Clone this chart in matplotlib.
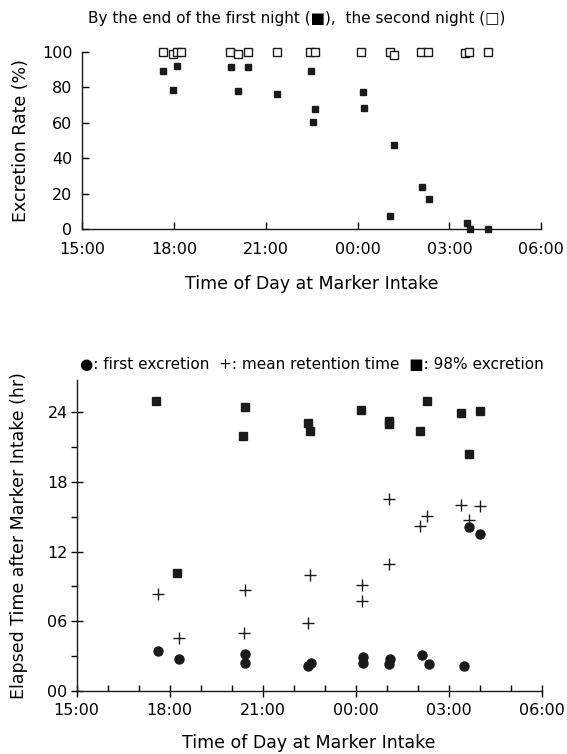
import matplotlib
matplotlib.use("Agg")
import matplotlib.pyplot as plt
from matplotlib.ticker import FixedLocator, MultipleLocator

plt.rcParams['font.family'] = ['DejaVu Sans']

# ---- data (time of day in hours, 24+ = after midnight) ----
# Top panel: excretion rate (%)
first_night_t = [17.64, 17.97, 18.09, 19.86, 20.09, 20.43, 21.36, 22.47, 22.59, 22.54,
                 24.18, 24.22, 25.07, 25.20, 26.09, 26.34, 27.57, 27.66, 28.27]
first_night_v = [89.2, 78.5, 92.3, 91.6, 78.1, 91.6, 76.4, 89.2, 67.7, 60.6,
                 77.2, 68.4, 7.1, 47.5, 24.0, 16.8, 3.2, 0.2, 0.2]
second_night_t = [17.64, 17.95, 18.09, 18.24, 19.82, 20.10, 20.43, 21.37, 22.44, 22.61,
                  24.12, 25.04, 25.19, 26.08, 26.29, 27.50, 27.64, 28.27]
second_night_v = [100, 98.7, 100, 100, 100, 98.7, 100, 100, 100, 100,
                  100, 100, 98.5, 100, 100, 99.5, 100, 100]

# Bottom panel: elapsed time after marker intake (hr)
first_exc_t = [17.63, 18.30, 20.44, 20.43, 22.46, 22.57, 24.23, 24.24, 25.12, 25.08,
               26.15, 26.35, 27.49, 27.65, 28.02]
first_exc_v = [3.39, 2.72, 3.16, 2.35, 2.12, 2.41, 2.93, 2.41, 2.70, 2.32,
               3.10, 2.32, 2.09, 14.08, 13.49]
mrt_t = [17.61, 18.30, 20.43, 20.40, 22.54, 22.46, 24.20, 24.20, 25.06, 25.09,
         26.08, 26.31, 27.41, 27.64, 28.02]
mrt_v = [8.31, 4.58, 8.72, 4.99, 9.98, 5.80, 9.13, 7.70, 16.5, 10.95,
         14.22, 15.07, 16.04, 14.75, 15.95]
exc98_t = [17.57, 18.25, 20.42, 20.38, 22.45, 22.51, 24.18, 25.06, 25.08, 26.08,
           26.30, 27.41, 27.64, 28.00]
exc98_v = [25.0, 10.13, 24.46, 21.97, 23.09, 22.4, 24.17, 22.97, 23.29, 22.4,
           25.0, 23.97, 20.43, 24.14]

x_ticks = [15, 18, 21, 24, 27, 30]
x_labels = ["15:00", "18:00", "21:00", "00:00", "03:00", "06:00"]
top_yticks = [0, 20, 40, 60, 80, 100]
bot_yticks = [0, 6, 12, 18, 24]
bot_ylabels = ["00", "06", "12", "18", "24"]

W, H = 567, 754
fig = plt.figure(figsize=(W / 100, H / 100), dpi=100)

def frac(l, t, r, b):
    return [l / W, 1 - b / H, (r - l) / W, (b - t) / H]

FS = 11.5
LW = 1.0

# ---- top panel ----
ax1 = fig.add_axes(frac(82.3, 52, 541.3, 229))
ax1.plot(first_night_t, first_night_v, ls='none', marker='s', ms=4.3,
         color='#1a1a1a', clip_on=False, zorder=3)
ax1.plot(second_night_t, second_night_v, ls='none', marker='s', ms=5.6,
         mfc='white', mec='#1a1a1a', mew=1.0, clip_on=False, zorder=3)
ax1.set_xlim(15, 30)
ax1.set_ylim(0, 100)
for s in ['top', 'right']:
    ax1.spines[s].set_visible(False)
for s in ['left', 'bottom']:
    ax1.spines[s].set_linewidth(LW)
    ax1.spines[s].set_color('#1a1a1a')
ax1.set_xticks(x_ticks)
ax1.set_xticklabels(x_labels)
ax1.set_yticks(top_yticks)
ax1.tick_params(axis='x', direction='in', length=5, width=LW, labelsize=FS, pad=9.5)
ax1.tick_params(axis='y', direction='in', length=5, width=LW, labelsize=FS, pad=7)
ax1.set_xlabel("Time of Day at Marker Intake", fontsize=12.5, labelpad=12.5)
ax1.set_ylabel("Excretion Rate (%)", fontsize=12.5, labelpad=9)
fig.text(297 / W, 1 - 18 / H,
         "By the end of the first night (\u25A0),  the second night (\u25A1)",
         ha='center', va='center', fontsize=11)

# ---- bottom panel ----
ax2 = fig.add_axes(frac(76.7, 380, 541.7, 690.7))
ax2.plot(first_exc_t, first_exc_v, ls='none', marker='o', ms=6.5,
         color='#1a1a1a', clip_on=False, zorder=3)
ax2.plot(mrt_t, mrt_v, ls='none', marker='+', ms=8, mew=1.0,
         color='#1a1a1a', clip_on=False, zorder=3)
ax2.plot(exc98_t, exc98_v, ls='none', marker='s', ms=5.2,
         color='#1a1a1a', clip_on=False, zorder=3)
ax2.set_xlim(15, 30)
ax2.set_ylim(0, 26.8)
for s in ['top', 'right']:
    ax2.spines[s].set_visible(False)
for s in ['left', 'bottom']:
    ax2.spines[s].set_linewidth(LW)
    ax2.spines[s].set_color('#1a1a1a')
ax2.set_xticks(x_ticks)
ax2.set_xticklabels(x_labels)
ax2.xaxis.set_minor_locator(MultipleLocator(1))
ax2.set_yticks(bot_yticks)
ax2.set_yticklabels(bot_ylabels)
ax2.yaxis.set_minor_locator(FixedLocator([3, 9, 15, 21]))
ax2.tick_params(axis='x', which='major', direction='inout', length=9, width=LW,
                labelsize=FS, pad=4.5)
ax2.tick_params(axis='x', which='minor', direction='in', length=4, width=LW)
ax2.tick_params(axis='y', which='major', direction='inout', length=9, width=LW,
                labelsize=FS, pad=2)
ax2.tick_params(axis='y', which='minor', direction='out', length=4, width=LW)
ax2.set_xlabel("Time of Day at Marker Intake", fontsize=12.5, labelpad=11.5)
ax2.set_ylabel("Elapsed Time after Marker Intake (hr)", fontsize=12.5, labelpad=14)
fig.text(312 / W, 1 - 365 / H,
         "\u25CF: first excretion  +: mean retention time  \u25A0: 98% excretion",
         ha='center', va='center', fontsize=11)

fig.savefig("out.png", dpi=100)
